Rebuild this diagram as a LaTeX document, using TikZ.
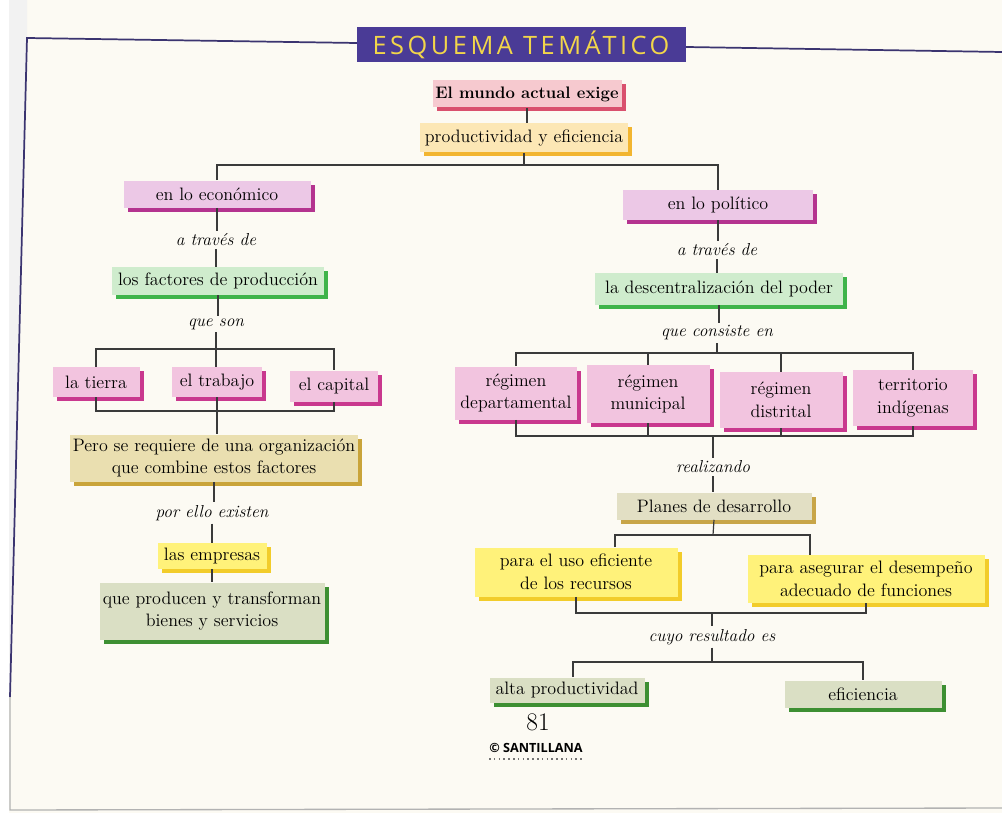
\documentclass[tikz,border=0pt]{standalone}
\usepackage{fontspec}
\newfontfamily\titlefont[LetterSpace=14]{Open Sans}
\newfontfamily\sansfam{Open Sans}
\usetikzlibrary{shadows,calc}
\definecolor{pagecol}{HTML}{FCFAF3}
\definecolor{framecol}{HTML}{3B3470}
\definecolor{linecol}{HTML}{3A3A3A}
\definecolor{titlefill}{HTML}{4A3B96}
\definecolor{titletext}{HTML}{F2D64A}
\definecolor{mundoF}{HTML}{F6C9CF}
\definecolor{mundoS}{HTML}{D9506E}
\definecolor{prodF}{HTML}{FCE7B5}
\definecolor{prodS}{HTML}{F2B530}
\definecolor{lilacF}{HTML}{ECC8E6}
\definecolor{lilacS}{HTML}{B4338F}
\definecolor{pinkF}{HTML}{F2C4DF}
\definecolor{pinkS}{HTML}{C9388E}
\definecolor{greenF}{HTML}{CFECCD}
\definecolor{greenS}{HTML}{3FB44A}
\definecolor{khakiF}{HTML}{EADFB0}
\definecolor{khakiS}{HTML}{C9A43A}
\definecolor{yelF}{HTML}{FFF27A}
\definecolor{yelS}{HTML}{F2CC2A}
\definecolor{sageF}{HTML}{DADFC4}
\definecolor{sageS}{HTML}{3D8F32}
\definecolor{planesF}{HTML}{E2DFC4}
\definecolor{planesS}{HTML}{C8A548}
\begin{document}
\begin{tikzpicture}[x=0.75pt,y=-0.75pt,
  bx/.style={inner sep=0pt, align=center, font=\fontsize{13.5}{17}\selectfont},
  sz/.style 2 args={minimum width=#1*0.75pt, minimum height=#2*0.75pt},
  sh/.style={drop shadow={shadow xshift=3pt, shadow yshift=-3pt, fill=#1, opacity=1}},
  mundo/.style={bx, fill=mundoF, sh=mundoS},
  prodbox/.style={bx, fill=prodF, sh=prodS},
  lilac/.style={bx, fill=lilacF, sh=lilacS},
  pinkbox/.style={bx, fill=pinkF, sh=pinkS},
  greenbox/.style={bx, fill=greenF, sh=greenS},
  khaki/.style={bx, fill=khakiF, sh=khakiS},
  yel/.style={bx, fill=yelF, sh=yelS},
  sage/.style={bx, fill=sageF, sh=sageS},
  planesbox/.style={bx, fill=planesF, sh=planesS},
  lbl/.style={inner sep=2pt, font=\fontsize{13}{15}\selectfont\itshape},
  conn/.style={draw=linecol, line width=0.9pt},
  frame/.style={draw=framecol, line width=1.3pt}
]
\useasboundingbox (0,0) rectangle (1002,813);
\fill[white] (0,0) rectangle (1002,813);
\fill[pagecol] (9,0) rectangle (1002,813);
\fill[black!5] (9,0) -- (27,0) -- (27,38) -- (10,697) -- (9,697) -- cycle;

% frame
\draw[frame] (357,43) -- (27,38) -- (10,697);
\draw[frame] (686,47) -- (1002,52);
\draw[black!30, line width=1pt] (10,697) -- (10,810) -- (1002,808);

% title
\node[fill=titlefill, sz={329}{35}, inner sep=0pt, text=titletext,
  font=\titlefont\fontsize{19}{21}\selectfont] (title) at (521,45) {ESQUEMA TEMÁTICO};

% nodes
\node[mundo, sz={189}{27}, font=\fontsize{12.5}{14}\selectfont\bfseries] (mundo) at (527,94) {El mundo actual exige};
\node[prodbox, sz={208}{29}] (prod) at (524,138) {productividad y eficiencia};

\node[lilac, sz={187}{27}] (eco) at (217,194) {en lo económico};
\node[lilac, sz={190}{30}] (pol) at (718,205) {en lo político};

\node[lbl] (at1) at (216,240) {a través de};
\node[greenbox, sz={212}{28}] (fac) at (218,281) {los factores de producción};
\node[lbl] (queson) at (216,324) {que son};
\node[pinkbox, sz={87}{30}] (tierra) at (96,382) {la tierra};
\node[pinkbox, sz={90}{30}] (trabajo) at (217,382) {el trabajo};
\node[pinkbox, sz={88}{31}] (capital) at (334,386) {el capital};
\node[khaki, sz={288}{47}] (pero) at (214,458) {Pero se requiere de una organización\\que combine estos factores};
\node[lbl] (porello) at (212,513) {por ello existen};
\node[yel, sz={109}{26}] (emp) at (212,556) {las empresas};
\node[sage, sz={225}{57}] (prodtr) at (212,611) {que producen y transforman\\bienes y servicios};

\node[lbl] (at2) at (717,250) {a través de};
\node[greenbox, sz={248}{32}] (desc) at (719,289) {la descentralización del poder};
\node[lbl] (qce) at (717,333) {que consiste en};
\node[pinkbox, sz={122}{53}] (dept) at (516,393) {régimen\\departamental};
\node[pinkbox, sz={123}{58}] (mun) at (648,394) {régimen\\municipal};
\node[pinkbox, sz={123}{56}] (dist) at (781,400) {régimen\\distrital};
\node[pinkbox, sz={120}{56}] (terr) at (913,398) {territorio\\indígenas};
\node[lbl] (realiz) at (713,467) {realizando};
\node[planesbox, sz={195}{27}] (planes) at (714,506) {Planes de desarrollo};
\node[yel, sz={203}{49}] (uso) at (576,572) {para el uso eficiente\\de los recursos};
\node[yel, sz={237}{48}] (aseg) at (866,579) {para asegurar el desempeño\\adecuado de funciones};
\node[lbl] (cuyo) at (712,637) {cuyo resultado es};
\node[sage, sz={155}{25}] (alta) at (567,690) {alta productividad};
\node[sage, sz={157}{27}] (efic) at (863,694) {eficiencia};

\node[inner sep=0pt, font=\fontsize{19}{21}\selectfont] (num) at (538,722) {81};
\node[inner sep=0pt, font=\sansfam\bfseries\fontsize{9.5}{11}\selectfont] (sant) at (536,748) {© SANTILLANA};
\draw[black!55, line width=1.2pt, dash pattern=on 1.2pt off 2.4pt] ($(sant.south west)+(0,6)$) -- ($(sant.south east)+(0,6)$);

% junctions
\coordinate (j1) at (524,165);
\coordinate (b1) at (216,349);
\coordinate (b2) at (215,411);
\coordinate (b3) at (717,353);
\coordinate (b4) at (713,436);
\coordinate (b5) at (713,535);
\coordinate (b6) at (712,613);
\coordinate (b7) at (712,662);

% connectors
\draw[conn] (mundo.south) -- (mundo.south |- prod.north);
\draw[conn] (prod.south) -- (j1);
\draw[conn] (eco.north) |- (j1) -| (pol.north);

\draw[conn] (eco.south) -- (eco.south |- at1.north);
\draw[conn] (at1.south) -- (at1.south |- fac.north);
\draw[conn] (fac.south) -- (fac.south |- queson.north);
\draw[conn] (queson.south) -- (queson.south |- trabajo.north);
\draw[conn] (tierra.north) |- (b1) -| (capital.north);
\draw[conn] (tierra.south) |- (b2) -| (capital.south);
\draw[conn] (trabajo.south) -- (trabajo.south |- pero.north);
\draw[conn] (pero.south) -- (pero.south |- porello.north);
\draw[conn] (porello.south) -- (porello.south |- emp.north);
\draw[conn] (emp.south) -- (emp.south |- prodtr.north);

\draw[conn] (pol.south) -- (pol.south |- at2.north);
\draw[conn] (at2.south) -- (at2.south |- desc.north);
\draw[conn] (desc.south) -- (desc.south |- qce.north);
\draw[conn] (qce.south) -- (b3);
\draw[conn] (dept.north) |- (b3) -| (terr.north);
\draw[conn] (mun.north) -- (mun.north |- b3);
\draw[conn] (dist.north) -- (dist.north |- b3);
\draw[conn] (dept.south) |- (b4) -| (terr.south);
\draw[conn] (mun.south) -- (mun.south |- b4);
\draw[conn] (dist.south) -- (dist.south |- b4);
\draw[conn] (b4) -- (b4 |- realiz.north);
\draw[conn] (realiz.south) -- (realiz.south |- planes.north);
\draw[conn] (planes.south) -- (b5);
\draw[conn] ([xshift=29.25pt]uso.north) |- (b5) -| ([xshift=-42pt]aseg.north);
\draw[conn] (uso.south) |- (b6) -| (aseg.south);
\draw[conn] (b6) -- (b6 |- cuyo.north);
\draw[conn] (cuyo.south) -- (b7);
\draw[conn] ([xshift=4.5pt]alta.north) |- (b7) -| (efic.north);
\end{tikzpicture}
\end{document}
